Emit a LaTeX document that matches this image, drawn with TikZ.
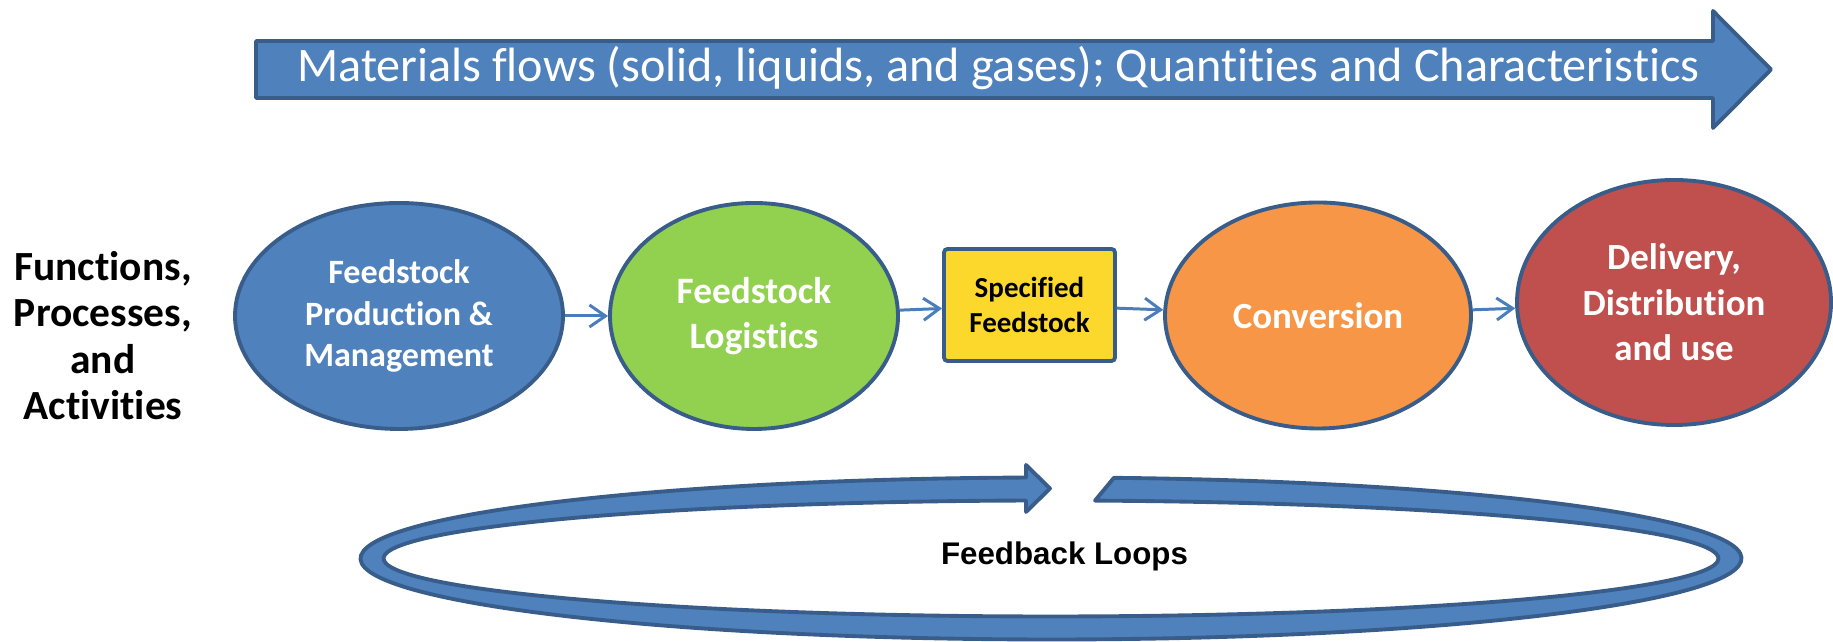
\documentclass[tikz,border=0pt]{standalone}
\usepackage{fontspec}
\setmainfont{Carlito}[Ligatures=NoCommon]
\newfontfamily\loopfont{Liberation Sans}
\usepackage{xcolor}
\usepackage{tikz}
\usetikzlibrary{shapes,arrows,positioning,calc,arrows.meta}
\definecolor{boxblue}{HTML}{4F81BD}
\definecolor{edgeblue}{HTML}{385D8A}
\definecolor{linkblue}{HTML}{4A7EBB}
\definecolor{leafgreen}{HTML}{92D050}
\definecolor{specyellow}{HTML}{FCD82C}
\definecolor{convorange}{HTML}{F79646}
\definecolor{delivred}{HTML}{C0504D}

\begin{document}
\begin{tikzpicture}[
    stage/.style={ellipse, draw=edgeblue, line width=1.1pt, text=white, align=center, inner sep=0pt},
    flow/.style={linkblue, line width=0.85pt, -{Straight Barb[length=1.6mm, width=2.2mm]}},
    band/.style={fill=boxblue, draw=edgeblue, line width=1.1pt, line join=round}
]
    \useasboundingbox (0,0) rectangle (18.33,6.42);

    % Material flow arrow
    \draw [band] (2.56,6.01) -- (17.13,6.01) -- (17.13,6.31) -- (17.71,5.725) -- (17.13,5.14) -- (17.13,5.44) -- (2.56,5.44) -- cycle;
    \node [text=white, font={\fontsize{13.7}{16}\selectfont}, anchor=base] (flowtext) at (9.985,5.60) {Materials flows (solid, liquids, and gases); Quantities and Characteristics};

    % Row label
    \node [align=center, font={\fontsize{11.8}{13.25}\selectfont\bfseries}] (funcs) at (1.03,3.065) {Functions,\\Processes,\\and\\Activities};

    % Chain of stages
    \node [stage, fill=boxblue, minimum width=3.28cm, minimum height=2.26cm, font={\fontsize{9.7}{11.8}\selectfont\bfseries}] (feed) at (3.99,3.26) {Feedstock\\Production \&\\Management};
    \node [stage, fill=leafgreen, minimum width=2.88cm, minimum height=2.26cm, font={\fontsize{10.6}{12.8}\selectfont\bfseries}] (logi) at (7.54,3.26) {Feedstock\\Logistics};
    \node [draw=edgeblue, fill=specyellow, line width=1.1pt, rounded corners=1pt, minimum width=1.71cm, minimum height=1.12cm, align=center, font={\fontsize{8.25}{9.85}\selectfont\bfseries}] (spec) at (10.295,3.37) {Specified\\Feedstock};
    \node [stage, fill=convorange, minimum width=3.06cm, minimum height=2.26cm, font={\fontsize{10.5}{12.6}\selectfont\bfseries}] (conv) at (13.18,3.265) {Conversion};
    \node [stage, fill=delivred, minimum width=3.14cm, minimum height=2.45cm, font={\fontsize{10.5}{13}\selectfont\bfseries}] (deliv) at (16.74,3.395) {Delivery,\\Distribution\\and use};
    \foreach \a/\b in {feed/logi, logi/spec, spec/conv, conv/deliv}
        \draw [flow] (\a) -- (\b);

    % Feedback loop
    \coordinate (loopc) at (10.51,0.835);
    \draw [band] ($(loopc)+(84.77:6.905 and 0.81)$) arc [start angle=84.77, end angle=-267.93, x radius=6.905, y radius=0.81]
        -- (10.26,1.77) -- (10.50,1.535) -- (10.26,1.30)
        -- ($(loopc)+(-267.85:6.675 and 0.58)$) arc [start angle=-267.85, end angle=86.22, x radius=6.675, y radius=0.58]
        -- cycle;
    \node [font={\loopfont\fontsize{8.9}{10}\selectfont\bfseries}, anchor=base] (loopname) at (10.645,0.77) {Feedback Loops};
\end{tikzpicture}
\end{document}
